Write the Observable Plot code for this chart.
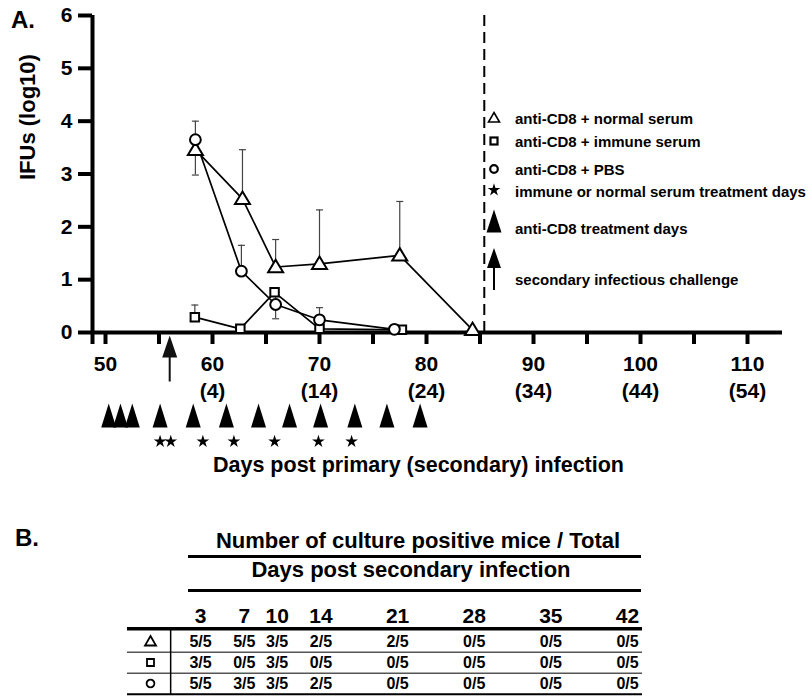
<!DOCTYPE html>
<html><head><meta charset="utf-8">
<script src="https://cdn.jsdelivr.net/npm/d3@7"></script>
<script src="https://cdn.jsdelivr.net/npm/@observablehq/plot@0.6"></script>
<style>
html,body{margin:0;padding:0;background:#fff;}
#wrap{position:relative;width:812px;height:696px;overflow:hidden;font-family:"Liberation Sans",Arial,Helvetica,sans-serif;color:#000;background:#fff;}
#wrap svg{position:absolute;left:0;}
.lbl{position:absolute;font-weight:bold;white-space:nowrap;line-height:1;}
</style></head>
<body><div id="wrap"></div>
<script>
// ---------------- data ----------------
const seriesNames = ["anti-CD8 + normal serum", "anti-CD8 + immune serum", "anti-CD8 + PBS"];
const normalDays = [58.4, 62.8, 65.9, 70.0, 77.5, 84.3];
const normalIFU  = [3.46, 2.53, 1.24, 1.30, 1.46, 0.05];
const normalHi   = [4.00, 3.46, 1.76, 2.32, 2.48, null];
const normalLo   = [2.98, null, null, null, null, null];
const immuneDays = [58.35, 62.6, 65.8, 70.0, 77.7];
const immuneIFU  = [0.29, 0.07, 0.76, 0.07, 0.05];
const immuneHi   = [0.52, null, null, null, null];
const immuneLo   = [null, null, null, null, null];
const pbsDays    = [58.4, 62.7, 65.9, 70.0, 77.0];
const pbsIFU     = [3.65, 1.16, 0.53, 0.24, 0.06];
const pbsHi      = [null, 1.65, 0.84, 0.47, null];
const pbsLo      = [null, null, 0.26, null, null];
const antiCD8Days = [50.3, 51.4, 52.5, 55.1, 58.2, 61.3, 64.3, 67.2, 70.1, 73.3, 76.3, 79.4];
const serumDays   = [55.1, 56.1, 59.1, 62.0, 65.8, 69.9, 73.0];
const challengeDay = 56;
const cutoffDay = 85.4;
const xMinorTicks = [50, 55, 60, 65, 70, 75, 80, 85, 90, 95, 100, 105, 110];
const xLabelDays  = [50, 60, 70, 80, 90, 100, 110];
const xLabelText  = ["50", "60\n(4)", "70\n(14)", "80\n(24)", "90\n(34)", "100\n(44)", "110\n(54)"];
const yTicks = [0, 1, 2, 3, 4, 5, 6];
const extraLegend = ["immune or normal serum treatment days", "anti-CD8 treatment days", "secondary infectious challenge"];
const xTitle = "Days post primary (secondary) infection";
const yTitle = "IFUs (log10)";
// table B
const tableTitle = "Number of culture positive mice / Total";
const tableSubtitle = "Days post secondary infection";
const tableDays   = [3, 7, 10, 14, 21, 28, 35, 42];
const tableNormal = ["5/5", "5/5", "3/5", "2/5", "2/5", "0/5", "0/5", "0/5"];
const tableImmune = ["3/5", "0/5", "3/5", "0/5", "0/5", "0/5", "0/5", "0/5"];
const tablePBS    = ["5/5", "3/5", "3/5", "2/5", "0/5", "0/5", "0/5", "0/5"];

// ---------------- symbols ----------------
const openTri = (w, h) => ({draw(c){ c.moveTo(0, -h*0.58); c.lineTo(w/2, h*0.42); c.lineTo(-w/2, h*0.42); c.closePath(); }});
const tallTri = (w, h) => ({draw(c){ c.moveTo(0, -h/2); c.lineTo(w/2, h/2); c.lineTo(-w/2, h/2); c.closePath(); }});
const squareSym = s => ({draw(c){ c.rect(-s/2, -s/2, s, s); }});
const circleSym = r => ({draw(c){ c.moveTo(r, 0); c.arc(0, 0, r, 0, 2*Math.PI); }});
const capSym = w => ({draw(c){ c.moveTo(-w/2, 0); c.lineTo(w/2, 0); }});
const arrowSym = (hw, hh, len, sw) => ({draw(c){
  c.moveTo(0, 0); c.lineTo(hw/2, hh); c.lineTo(sw/2, hh); c.lineTo(sw/2, len);
  c.lineTo(-sw/2, len); c.lineTo(-sw/2, hh); c.lineTo(-hw/2, hh); c.closePath(); }});

const series = [
  {key: seriesNames[0], days: normalDays, ifu: normalIFU, hi: normalHi, lo: normalLo, sym: openTri(15, 12.5)},
  {key: seriesNames[1], days: immuneDays, ifu: immuneIFU, hi: immuneHi, lo: immuneLo, sym: squareSym(8.5)},
  {key: seriesNames[2], days: pbsDays,    ifu: pbsIFU,    hi: pbsHi,    lo: pbsLo,    sym: circleSym(5.4)}
];
const points = series.flatMap(s => s.days.map((d, i) => ({series: s.key, day: d, ifu: s.ifu[i]})));
const errBars = [], errCaps = [];
for (const s of series) s.days.forEach((d, i) => {
  const hi = s.hi[i], lo = s.lo[i];
  if (hi != null || lo != null) {
    errBars.push({day: d, y1: lo ?? s.ifu[i], y2: hi ?? s.ifu[i]});
    if (hi != null) errCaps.push({day: d, v: hi});
    if (lo != null) errCaps.push({day: d, v: lo});
  }
});

const wrap = document.getElementById("wrap");
const font = '"Liberation Sans", Arial, Helvetica, sans-serif';

// ---------------- panel A ----------------
const X0 = 48.785, X1 = 113.27;
const plotA = Plot.plot({
  width: 812, height: 500,
  marginLeft: 92, marginRight: 30, marginTop: 15, marginBottom: 168,
  x: {domain: [X0, X1], axis: null},
  y: {domain: [0, 6], axis: null},
  style: {fontFamily: font, background: "transparent", overflow: "visible", color: "black"},
  marks: [
    Plot.ruleX([cutoffDay], {y1: 0, y2: 6, strokeDasharray: "11,6", strokeWidth: 2}),
    Plot.axisY({ticks: yTicks, tickSize: 14, tickPadding: 6, strokeWidth: 4, tickFormat: d => String(d), fontSize: 21, fontWeight: "bold", label: null}),
    Plot.axisX({ticks: [X0, ...xMinorTicks], tickSize: 12, strokeWidth: 4, tickFormat: () => "", label: null}),
    Plot.ruleY([0], {strokeWidth: 4}),
    Plot.ruleX([X0], {y1: 0, y2: 6, strokeWidth: 4}),
    Plot.text(xLabelText, {x: xLabelDays, frameAnchor: "bottom", lineAnchor: "top", dy: 19, fontSize: 21, fontWeight: "bold", lineHeight: 1.3}),
    Plot.text([yTitle], {frameAnchor: "left", rotate: -90, dx: -65, dy: 6, fontSize: 22, fontWeight: "bold"}),
    Plot.text([xTitle], {frameAnchor: "bottom", dx: -19, dy: 139, fontSize: 21.5, fontWeight: "bold"}),
    Plot.ruleX(errBars, {x: "day", y1: "y1", y2: "y2", stroke: "#444", strokeWidth: 1.2}),
    Plot.dot(errCaps, {x: "day", y: "v", r: 3, symbol: capSym(7), stroke: "#444", strokeWidth: 1.2, fill: "none"}),
    Plot.line(points, {x: "day", y: "ifu", z: "series", stroke: "black", strokeWidth: 1.7}),
    ...series.map(s => Plot.dot(points.filter(p => p.series === s.key), {x: "day", y: "ifu", r: 5, symbol: s.sym, fill: "white", stroke: "black", strokeWidth: 2})),
    Plot.dot(antiCD8Days, {x: d => d, frameAnchor: "bottom", dy: 83, r: 10, symbol: tallTri(15, 24), fill: "black", stroke: "none"}),
    Plot.dot(serumDays, {x: d => d, frameAnchor: "bottom", dy: 109, r: 4, symbol: "star", fill: "black", stroke: "none"}),
    Plot.dot([challengeDay], {x: d => d, frameAnchor: "bottom", dy: 3, r: 10, symbol: arrowSym(15, 22, 46, 2), fill: "#111", stroke: "none"})
  ]
});
plotA.style.top = "0px";
wrap.append(plotA);

function label(txt, {left, cx, cy, size, weight = "bold"}) {
  const d = document.createElement("div");
  d.className = "lbl";
  d.textContent = txt;
  d.style.fontSize = size + "px";
  d.style.fontWeight = weight;
  d.style.top = (cy - size * 0.49) + "px";
  if (cx != null) { d.style.left = cx + "px"; d.style.transform = "translateX(-50%)"; }
  else d.style.left = left + "px";
  wrap.append(d);
  return d;
}
function icon(svgInner, cx, cy, w, h) {
  const ns = "http://www.w3.org/2000/svg";
  const s = document.createElementNS(ns, "svg");
  s.setAttribute("width", w); s.setAttribute("height", h);
  s.setAttribute("viewBox", `${-w/2} ${-h/2} ${w} ${h}`);
  s.style.position = "absolute"; s.style.left = (cx - w/2) + "px"; s.style.top = (cy - h/2) + "px";
  s.innerHTML = svgInner;
  wrap.append(s);
}

label("A.", {left: 11, cy: 20, size: 24});

// legend of panel A
const lx = 494, tx = 515, ls = 15;
icon(`<path d="M0,-5.5L5.5,4L-5.5,4Z" fill="white" stroke="black" stroke-width="1.6"/>`, lx, 118, 16, 16);
label(seriesNames[0], {left: tx, cy: 118, size: ls});
icon(`<rect x="-3.5" y="-3.5" width="7" height="7" fill="white" stroke="black" stroke-width="2.2"/>`, lx, 141, 14, 14);
label(seriesNames[1], {left: tx, cy: 141, size: ls});
icon(`<circle r="3.8" fill="white" stroke="black" stroke-width="2.2"/>`, lx, 169, 14, 14);
label(seriesNames[2], {left: tx, cy: 169, size: ls});
icon(`<path d="${d3.symbol(d3.symbolStar, 50)()}" fill="black"/>`, lx, 190, 14, 14);
label(extraLegend[0], {left: tx, cy: 191, size: ls});
icon(`<path d="M0,-11.5L7.5,11.5L-7.5,11.5Z" fill="black"/>`, lx, 221, 18, 26);
label(extraLegend[1], {left: tx, cy: 228, size: ls});
icon(`<path d="M0,-21L7,-1L1,-1L1,21L-1,21L-1,-1L-7,-1Z" fill="black"/>`, lx, 269, 18, 44);
label(extraLegend[2], {left: tx, cy: 279, size: ls});

// ---------------- panel B ----------------
label("B.", {left: 15, cy: 538, size: 24});
label(tableTitle, {cx: 418, cy: 541, size: 22});
const ln1 = document.createElement("div");
Object.assign(ln1.style, {position: "absolute", left: "188px", width: "453px", top: "555px", height: "3px", background: "black"});
wrap.append(ln1);
label(tableSubtitle, {cx: 411, cy: 570, size: 22});
const ln2 = document.createElement("div");
Object.assign(ln2.style, {position: "absolute", left: "188px", width: "453px", top: "588.5px", height: "3px", background: "black"});
wrap.append(ln2);

const rowKeys = ["normal", "immune", "pbs"];
const rowVals = [tableNormal, tableImmune, tablePBS];
const rowSyms = [openTri(11, 9.5), squareSym(7), circleSym(3.9)];
const cells = rowKeys.flatMap((k, r) => tableDays.map((d, c) => ({row: k, day: d, text: rowVals[r][c]})));
const k = 427 / 39;
const plotB = Plot.plot({
  width: 812, height: 106,
  marginLeft: 127, marginRight: 170, marginTop: 38, marginBottom: 2,
  x: {domain: [3 - 73 / k, 42 + 15 / k], axis: null},
  y: {type: "point", domain: rowKeys, range: [51, 93.4], padding: 0, axis: null},
  style: {fontFamily: font, background: "transparent", overflow: "visible", color: "black"},
  marks: [
    Plot.ruleY([rowKeys[0]], {y: d => d, dy: -12.7, strokeWidth: 3.5}),
    Plot.ruleY(rowKeys.slice(0, 2), {y: d => d, dy: 10.7, stroke: "#555", strokeWidth: 1.5}),
    Plot.ruleY([rowKeys[2]], {y: d => d, dy: 10.7, strokeWidth: 2}),
    Plot.ruleX([0], {dx: 3, strokeWidth: 1.5}),
    Plot.text(tableDays, {x: d => d, frameAnchor: "top", dy: -20, fontSize: 21, fontWeight: "bold"}),
    Plot.text(cells, {x: "day", y: "row", text: "text", fontSize: 16, fontWeight: "bold"}),
    ...rowKeys.map((key, i) => Plot.dot([key], {y: d => d, frameAnchor: "left", dx: 23, r: 4, symbol: rowSyms[i], fill: "white", stroke: "black", strokeWidth: 1.8}))
  ]
});
plotB.style.top = "590px";
wrap.append(plotB);
</script></body></html>
